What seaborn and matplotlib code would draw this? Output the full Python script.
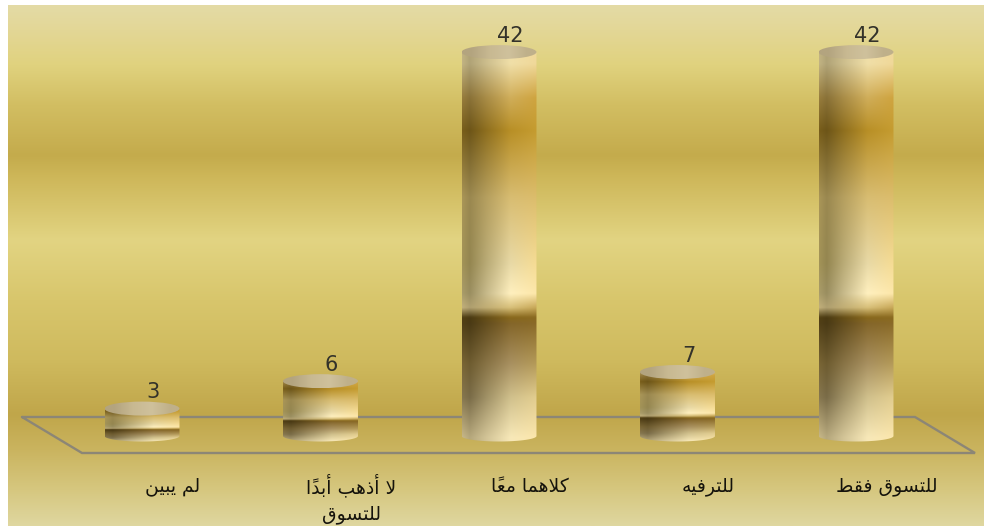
import numpy as np
import matplotlib
matplotlib.use("Agg")
import matplotlib.pyplot as plt
from matplotlib.colors import to_rgb
from matplotlib.patches import PathPatch, Ellipse
from matplotlib.path import Path
from matplotlib.transforms import ScaledTranslation
import seaborn as sns

# Chart content, in left-to-right drawing order
categories = ["لم يبين", "لا أذهب أبداً\nللتسوق", "كلاهما معاً", "للترفيه", "للتسوق فقط"]
values = [3, 6, 42, 7, 42]

# Arabic presentation forms: isolated, final, initial, medial
FORMS = {
    "ا": "\uFE8D\uFE8E", "أ": "\uFE83\uFE84", "د": "\uFEA9\uFEAA", "ذ": "\uFEAB\uFEAC",
    "ر": "\uFEAD\uFEAE", "و": "\uFEED\uFEEE",
    "ب": "\uFE8F\uFE90\uFE91\uFE92", "ت": "\uFE95\uFE96\uFE97\uFE98",
    "س": "\uFEB1\uFEB2\uFEB3\uFEB4", "ط": "\uFEC1\uFEC2\uFEC3\uFEC4",
    "ع": "\uFEC9\uFECA\uFECB\uFECC", "ف": "\uFED1\uFED2\uFED3\uFED4",
    "ق": "\uFED5\uFED6\uFED7\uFED8", "ك": "\uFED9\uFEDA\uFEDB\uFEDC",
    "ل": "\uFEDD\uFEDE\uFEDF\uFEE0", "م": "\uFEE1\uFEE2\uFEE3\uFEE4",
    "ن": "\uFEE5\uFEE6\uFEE7\uFEE8", "ه": "\uFEE9\uFEEA\uFEEB\uFEEC",
    "ي": "\uFEF1\uFEF2\uFEF3\uFEF4",
}


def shape_line(line):
    """Join Arabic letters and lay them out in visual order for matplotlib."""
    clusters = []
    i = 0
    prev_joins = False
    while i < len(line):
        ch = line[i]
        if ch not in FORMS:
            clusters.append(ch)
            prev_joins = False
            i += 1
            continue
        if ch == "ل" and i + 1 < len(line) and line[i + 1] == "ا":
            glyph = "\uFEFC" if prev_joins else "\uFEFB"
            prev_joins = False
            i += 2
        else:
            forms = FORMS[ch]
            dual = len(forms) == 4
            next_letter = i + 1 < len(line) and line[i + 1] in FORMS
            next_joins = dual and next_letter
            if prev_joins and next_joins:
                glyph = forms[3]
            elif prev_joins:
                glyph = forms[1]
            elif next_joins:
                glyph = forms[2]
            else:
                glyph = forms[0]
            prev_joins = dual
            i += 1
        if i < len(line) and line[i] == "\u064B":
            glyph += "\u064B"
            i += 1
        clusters.append(glyph)
    return "".join(reversed(clusters))


def shape(text):
    return "\n".join(shape_line(part) for part in text.split("\n"))


W, H = 984, 526
sns.set_theme(style="white", rc={"font.family": ["DejaVu Sans"]})
fig = plt.figure(figsize=(W / 100, H / 100), dpi=100, facecolor="white")

# Backdrop: banded golden wash plus the slanted floor outline
bg = fig.add_axes([0, 0, 1, 1], zorder=0)
bg.set_xlim(0, W)
bg.set_ylim(H, 0)
bg.axis("off")
wash_y = [5, 30, 65, 105, 155, 175, 240, 300, 360, 415, 450, 490, 526]
wash_c = ["#e4dba6", "#e3d796", "#e0d27e", "#d2be62", "#c4ab4c", "#cdb658", "#e2d482",
          "#d8c66c", "#cfba5e", "#c0a64a", "#cab45f", "#d6c77f", "#dfd7a0"]
rows = np.arange(5, H + 1)
rgb = np.array([to_rgb(c) for c in wash_c])
wash = np.stack([np.interp(rows, wash_y, rgb[:, k]) for k in range(3)], axis=-1)[:, None, :]
bg.imshow(wash, extent=(8, W, H, 5), aspect="auto", interpolation="bilinear")
bg.set_xlim(0, W)
bg.set_ylim(H, 0)
floor_x = [22, 915, 975, 82, 22]
floor_y = [417, 417, 453, 453, 417]
bg.plot(floor_x, floor_y, color="#8c8676", lw=1.7, solid_joinstyle="miter")

# Chart axes: one category slot is 178.5 px, one value unit about 9.14 px
px_unit = 9.14
left, right = 52.75, 945.25
top_px, bottom_px = 436 - 46 * px_unit, 436 + 4 * px_unit
ax = fig.add_axes([left / W, 1 - bottom_px / H, (right - left) / W, (bottom_px - top_px) / H], zorder=1)
ax.patch.set_alpha(0)

labels = [shape(c) for c in categories]
sns.barplot(x=labels, y=values, width=0.42, ax=ax, color="#c9a030", saturation=1, order=labels)
ax.set_ylim(-4, 46)
ax.set_xlim(-0.5, 4.5)
sns.despine(ax=ax, left=True, bottom=True)
ax.set_yticks([])
ax.set_ylabel("")
ax.tick_params(axis="x", length=0, pad=3.5, labelsize=13.5, labelcolor="#15130c")

# Category names sit to the right of their columns; the two-line name is
# nudged up so its first line shares a baseline with the others
for tick in ax.get_xticklabels():
    two_lines = "\n" in tick.get_text()
    shift = ScaledTranslation(31 / 100, (4 if two_lines else 0) / 100, fig.dpi_scale_trans)
    tick.set_linespacing(1.5)
    tick.set_transform(tick.get_transform() + shift)

# Shading of the cylinder walls, by height (top to bottom) and across the width
band_py = np.array([45, 63, 97, 130, 197, 263, 293, 307, 317, 323, 363, 397, 437, 441])
band_t = (band_py - 45.0) / 396.0
left_c = ["#b0a377", "#b0a377", "#8a7238", "#6d5518", "#9a8850", "#948650", "#9a8e60",
          "#b0a070", "#4a3a12", "#4a3a15", "#6e5c30", "#7a6c48", "#b5a77c", "#b5a77c"]
mid_c = ["#f0dfa8", "#f0dfa8", "#d0ae5a", "#b88f26", "#d8bd72", "#e8d9a6", "#fff0bf",
         "#d8c07a", "#88681c", "#84662a", "#a89060", "#d0c08c", "#f7e8b8", "#f7e8b8"]
right_c = ["#f0d899", "#f0d899", "#cfa43f", "#c59c30", "#dcbd6c", "#f6dc94", "#fde7aa",
           "#c8a858", "#8a6a20", "#8a6a28", "#b49a58", "#e2cd8f", "#fbe6ac", "#fbe6ac"]


def wall_shade(n_rows=300, n_cols=120):
    t = np.linspace(0, 1, n_rows)
    cols = [np.array([to_rgb(c) for c in group]) for group in (left_c, mid_c, right_c)]
    at_t = [np.stack([np.interp(t, band_t, c[:, k]) for k in range(3)], axis=-1) for c in cols]
    edge = np.clip(at_t[0] * 1.1, 0, 1)
    blend = 0.55 * at_t[0] + 0.45 * at_t[1]
    u = np.linspace(0, 1, n_cols)
    stops = np.stack([edge, at_t[0], blend, at_t[1], at_t[2]], axis=0)
    u_stops = [0, 0.1, 0.33, 0.65, 1]
    out = np.zeros((n_rows, n_cols, 3))
    for r in range(n_rows):
        for k in range(3):
            out[r, :, k] = np.interp(u, u_stops, stops[:, r, k])
    return out


shade = wall_shade()
cap_shade = np.array([[to_rgb(c) for c in ("#b3a47f", "#c8b992", "#cfc19c", "#bfb08a")]])
cap_half = 7 / px_unit
foot_half = 5.5 / px_unit
theta = np.linspace(0, np.pi, 60)

for patch, value in zip(list(ax.patches), values):
    x0, w = patch.get_x(), patch.get_width()
    h = patch.get_height()
    xc = x0 + w / 2
    patch.set_visible(False)

    # Cylinder outline: sides plus the rounded front of the bottom edge
    bx = xc - np.cos(theta) * w / 2
    by = -np.sin(theta) * foot_half
    outline = np.column_stack([np.r_[x0, bx, x0 + w], np.r_[h, by, h]])
    wall = PathPatch(Path(outline), transform=ax.transData, fc="none", ec="none")
    ax.add_patch(wall)
    im = ax.imshow(shade, extent=(x0, x0 + w, -foot_half, h + cap_half), aspect="auto",
                   interpolation="bilinear", zorder=3)
    im.set_clip_path(wall)

    cap = Ellipse((xc, h), w, 2 * cap_half, transform=ax.transData, fc="none", ec="none")
    ax.add_patch(cap)
    top = ax.imshow(cap_shade, extent=(x0, x0 + w, h - cap_half, h + cap_half), aspect="auto",
                    interpolation="bilinear", zorder=4)
    top.set_clip_path(cap)

    ax.annotate(str(value), (xc, h + cap_half), xytext=(8, -0.5), textcoords="offset points",
                ha="center", va="bottom", fontsize=15, color="#33322a", zorder=5)

ax.set_ylim(-4, 46)
ax.set_xlim(-0.5, 4.5)

fig.savefig("out.png", dpi=100, facecolor="white")
